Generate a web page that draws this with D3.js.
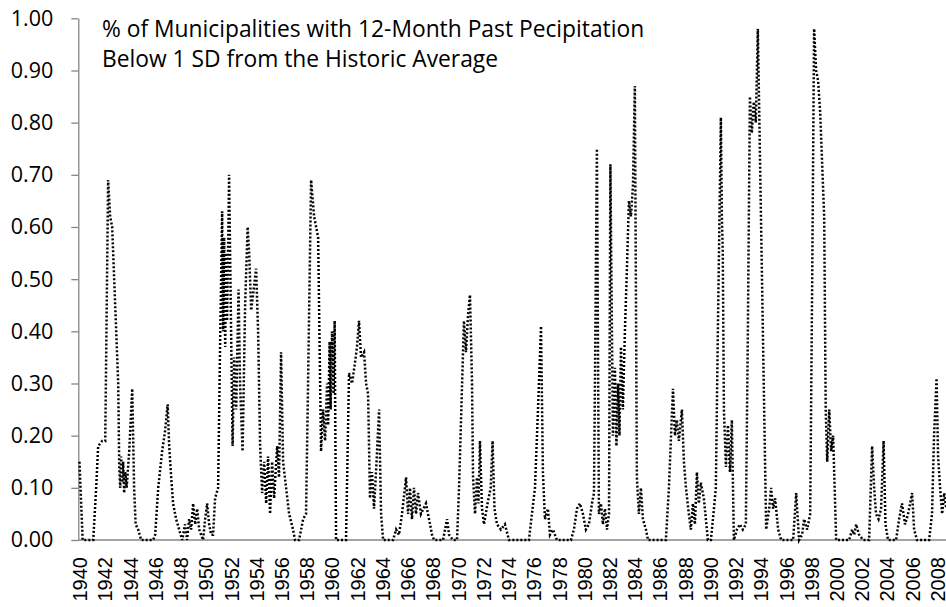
<!DOCTYPE html>
<html>
<head>
<meta charset="utf-8">
<script src="https://cdn.jsdelivr.net/npm/d3@7"></script>
<style>
  body { margin: 0; background: #fff; }
</style>
</head>
<body>
<script>
const w = 946;
const h = 607;

// share of municipalities as [year, value] vertices
const s1940s = [[1940.00,0.15],[1940.08,0.10],[1940.25,0.00],[1941.09,0.00],[1941.32,0.10],[1941.48,0.18],[1941.80,0.19],[1942.04,0.19],[1942.27,0.69],[1942.43,0.62],[1942.59,0.60],[1943.07,0.30],[1943.15,0.14],[1943.23,0.10],[1943.30,0.16],[1943.38,0.11],[1943.46,0.15],[1943.54,0.09],[1943.62,0.13],[1943.74,0.10],[1943.94,0.17],[1944.18,0.29],[1944.33,0.10],[1944.45,0.03],[1944.65,0.02],[1944.89,0.00],[1945.84,0.00],[1946.00,0.01],[1946.24,0.10],[1946.55,0.17],[1946.79,0.21],[1946.99,0.26],[1947.11,0.18],[1947.27,0.12],[1947.42,0.07],[1947.66,0.04],[1947.90,0.02],[1948.14,0.00],[1948.37,0.03],[1948.53,0.00],[1948.69,0.04],[1948.85,0.02],[1949.01,0.07],[1949.17,0.03],[1949.33,0.06],[1949.49,0.02],[1949.64,0.01],[1949.80,0.00],[1949.96,0.04]];
const s1950s = [[1950.12,0.07],[1950.28,0.03],[1950.44,0.01],[1950.59,0.01],[1950.75,0.08],[1950.99,0.10],[1951.15,0.38],[1951.31,0.63],[1951.39,0.40],[1951.47,0.58],[1951.55,0.37],[1951.62,0.55],[1951.70,0.42],[1951.86,0.70],[1952.02,0.40],[1952.14,0.18],[1952.26,0.35],[1952.42,0.25],[1952.61,0.48],[1952.73,0.30],[1952.93,0.17],[1953.13,0.45],[1953.33,0.60],[1953.45,0.55],[1953.61,0.44],[1953.76,0.47],[1954.00,0.52],[1954.16,0.40],[1954.32,0.18],[1954.48,0.09],[1954.64,0.15],[1954.80,0.07],[1954.95,0.16],[1955.11,0.05],[1955.27,0.15],[1955.43,0.08],[1955.67,0.18],[1955.82,0.12],[1955.98,0.36],[1956.14,0.15],[1956.38,0.10],[1956.62,0.05],[1956.93,0.02],[1957.09,0.00],[1957.41,0.00],[1957.73,0.04],[1957.96,0.05],[1958.12,0.30],[1958.36,0.69],[1958.60,0.62],[1958.92,0.58],[1959.15,0.17],[1959.31,0.25],[1959.47,0.19],[1959.63,0.30],[1959.71,0.22],[1959.83,0.38],[1959.91,0.25]];
const s1960s = [[1960.02,0.40],[1960.14,0.28],[1960.23,0.42],[1960.34,0.00],[1961.13,0.00],[1961.37,0.32],[1961.61,0.30],[1961.84,0.34],[1962.00,0.37],[1962.16,0.42],[1962.32,0.35],[1962.56,0.36],[1962.72,0.30],[1962.88,0.28],[1963.03,0.08],[1963.19,0.13],[1963.35,0.06],[1963.55,0.15],[1963.75,0.25],[1963.91,0.05],[1964.07,0.00],[1964.86,0.00],[1965.10,0.02],[1965.33,0.01],[1965.57,0.05],[1965.89,0.12],[1966.05,0.05],[1966.20,0.10],[1966.36,0.04],[1966.52,0.10],[1966.68,0.05],[1966.84,0.09],[1967.07,0.05],[1967.47,0.07],[1967.71,0.04],[1967.95,0.01],[1968.11,0.00],[1968.82,0.00],[1969.14,0.04],[1969.30,0.01],[1969.61,0.00],[1969.93,0.00]];
const s1970s = [[1970.09,0.10],[1970.48,0.42],[1970.64,0.36],[1970.80,0.43],[1970.96,0.47],[1971.12,0.30],[1971.20,0.12],[1971.36,0.05],[1971.51,0.12],[1971.63,0.07],[1971.75,0.19],[1971.91,0.06],[1972.07,0.03],[1972.35,0.07],[1972.60,0.10],[1972.75,0.19],[1972.90,0.06],[1973.10,0.03],[1973.41,0.02],[1973.73,0.03],[1974.05,0.00],[1975.63,0.00],[1975.87,0.05],[1976.11,0.10],[1976.35,0.25],[1976.59,0.41],[1976.74,0.13],[1976.90,0.04],[1977.14,0.06],[1977.30,0.01],[1977.54,0.02],[1977.85,0.00],[1978.96,0.00],[1979.20,0.02],[1979.44,0.06],[1979.68,0.07],[1979.91,0.05]];
const s1980s = [[1980.15,0.02],[1980.39,0.03],[1980.63,0.07],[1980.79,0.09],[1981.02,0.75],[1981.18,0.05],[1981.34,0.07],[1981.50,0.03],[1981.66,0.06],[1981.82,0.02],[1981.98,0.05],[1982.09,0.72],[1982.29,0.20],[1982.45,0.33],[1982.57,0.18],[1982.69,0.30],[1982.81,0.20],[1982.93,0.37],[1983.08,0.25],[1983.24,0.40],[1983.40,0.52],[1983.56,0.65],[1983.72,0.62],[1983.88,0.68],[1984.03,0.87],[1984.19,0.12],[1984.35,0.05],[1984.51,0.10],[1984.67,0.04],[1984.91,0.02],[1985.07,0.00],[1986.49,0.00],[1986.73,0.10],[1987.05,0.29],[1987.21,0.20],[1987.36,0.23],[1987.52,0.19],[1987.76,0.25],[1987.92,0.15],[1988.08,0.10],[1988.31,0.05],[1988.47,0.02],[1988.63,0.07],[1988.79,0.03],[1988.95,0.13],[1989.10,0.07],[1989.26,0.11],[1989.50,0.08],[1989.82,0.00]];
const s1990s = [[1990.06,0.00],[1990.30,0.06],[1990.45,0.10],[1990.61,0.40],[1990.85,0.81],[1990.93,0.62],[1991.00,0.55],[1991.09,0.25],[1991.25,0.14],[1991.41,0.22],[1991.57,0.13],[1991.72,0.23],[1991.88,0.00],[1992.12,0.02],[1992.36,0.03],[1992.59,0.02],[1992.83,0.03],[1992.99,0.40],[1993.15,0.85],[1993.30,0.78],[1993.46,0.84],[1993.62,0.80],[1993.78,0.98],[1994.44,0.02],[1994.68,0.06],[1994.83,0.10],[1994.99,0.06],[1995.15,0.08],[1995.39,0.02],[1995.63,0.00],[1996.58,0.00],[1996.82,0.09],[1997.05,0.00],[1997.29,0.01],[1997.45,0.04],[1997.69,0.02],[1997.93,0.05],[1998.09,0.50],[1998.24,0.98],[1998.40,0.90],[1998.56,0.88],[1998.72,0.82],[1998.88,0.72],[1999.04,0.62],[1999.16,0.25],[1999.28,0.15],[1999.44,0.25],[1999.59,0.17],[1999.75,0.20],[1999.99,0.00]];
const s2000s = [[2001.02,0.00],[2001.26,0.02],[2001.42,0.01],[2001.58,0.03],[2001.81,0.01],[2002.13,0.00],[2002.60,0.00],[2002.84,0.18],[2003.00,0.10],[2003.15,0.05],[2003.35,0.04],[2003.55,0.06],[2003.75,0.19],[2003.90,0.03],[2004.10,0.00],[2004.74,0.00],[2004.98,0.04],[2005.21,0.07],[2005.45,0.03],[2005.69,0.05],[2006.01,0.09],[2006.17,0.02],[2006.40,0.00],[2007.36,0.00],[2007.59,0.05],[2007.75,0.20],[2007.95,0.31],[2008.07,0.16],[2008.23,0.10],[2008.39,0.05],[2008.55,0.09],[2008.72,0.06]];

const yTicks = [0, 0.1, 0.2, 0.3, 0.4, 0.5, 0.6, 0.7, 0.8, 0.9, 1.0];
const xLabelYears = [1940, 1942, 1944, 1946, 1948, 1950, 1952, 1954, 1956, 1958, 1960, 1962, 1964, 1966, 1968, 1970, 1972, 1974, 1976, 1978, 1980, 1982, 1984, 1986, 1988, 1990, 1992, 1994, 1996, 1998, 2000, 2002, 2004, 2006, 2008];
const titleLines = ["% of Municipalities with 12-Month Past Pecipitation", "Below 1 SD from the Historic Average"];

const dataset = [].concat(s1940s, s1950s, s1960s, s1970s, s1980s, s1990s, s2000s)
  .map(function (d) { return { year: d[0], value: d[1] }; });

const axisGray = "#868686";
const axisX = 78.3;

const svg = d3.select("body").append("svg")
  .attr("width", w)
  .attr("height", h);

const xScale = d3.scaleLinear().domain([1940, 2008]).range([79.5, 937.2]);
const yScale = d3.scaleLinear().domain([0, 1]).range([540, 18.3]);

// y axis
const yAxis = d3.axisLeft(yScale)
  .tickValues(yTicks)
  .tickFormat(d3.format(".2f"))
  .tickSizeInner(7)
  .tickSizeOuter(0)
  .tickPadding(18);

const gy = svg.append("g")
  .attr("transform", "translate(" + axisX + ",0)")
  .call(yAxis);
gy.select(".domain").attr("stroke", axisGray).attr("stroke-width", 1.3);
gy.selectAll(".tick line").attr("stroke", axisGray).attr("stroke-width", 1.3);
gy.selectAll(".tick text")
  .attr("fill", "#000")
  .style("font-family", "'Open Sans', sans-serif")
  .style("font-size", "21.5px");

// x axis
const xAxis = d3.axisBottom(xScale)
  .tickValues(xLabelYears)
  .tickFormat(d3.format("d"))
  .tickSize(0);

const gx = svg.append("g")
  .attr("transform", "translate(0," + yScale(0) + ")")
  .call(xAxis);
gx.select(".domain").remove();
gx.append("line")
  .attr("x1", axisX)
  .attr("x2", w)
  .attr("y1", 0)
  .attr("y2", 0)
  .attr("stroke", axisGray)
  .attr("stroke-width", 1.3);
gx.selectAll(".tick text")
  .attr("transform", "rotate(-90)")
  .attr("x", -17)
  .attr("y", 0)
  .attr("dy", "0.36em")
  .attr("fill", "#000")
  .style("text-anchor", "end")
  .style("font-family", "'Liberation Sans', Arial, sans-serif")
  .style("font-size", "20px");

// the series
const line = d3.line()
  .x(function (d) { return xScale(d.year); })
  .y(function (d) { return yScale(d.value); });

svg.append("path")
  .datum(dataset)
  .attr("d", line)
  .attr("fill", "none")
  .attr("stroke", "#000")
  .attr("stroke-width", 2.5)
  .attr("stroke-dasharray", "2,2");

// title inside the plot
svg.selectAll(".title-line")
  .data(titleLines)
  .enter()
  .append("text")
  .attr("class", "title-line")
  .attr("x", 102)
  .attr("y", function (d, i) { return 37 + i * 30; })
  .attr("fill", "#000")
  .style("font-family", "'Open Sans', sans-serif")
  .style("font-size", "22.8px")
  .text(function (d) { return d; });
</script>
</body>
</html>
